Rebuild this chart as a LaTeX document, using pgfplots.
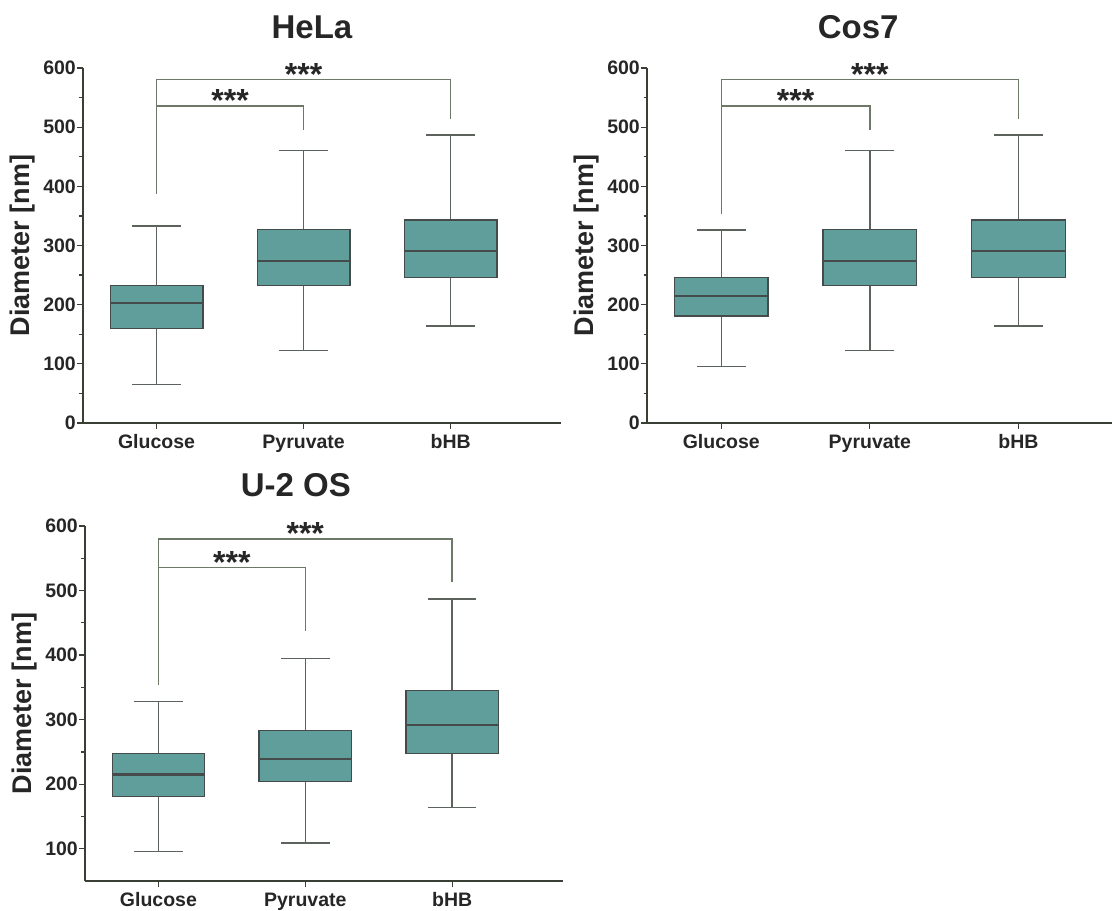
\documentclass[border=0pt]{standalone}
\usepackage{fontspec}
\setmainfont{Liberation Sans}
\usepackage{pgfplots}
\pgfplotsset{compat=1.18}
\usepgfplotslibrary{statistics}
\definecolor{boxfill}{HTML}{5F9E9B}
\definecolor{boxline}{HTML}{454B4B}
\definecolor{whisk}{HTML}{5C625C}
\definecolor{axline}{HTML}{3A3F35}
\definecolor{brk}{HTML}{6E7866}
\tikzset{stars/.style={font=\bfseries\fontsize{32}{34}\selectfont, text=black!85, anchor=base, yshift=-6pt}}
\begin{document}
\begin{tikzpicture}
\useasboundingbox (0pt,0pt) rectangle (1112pt,911pt);
\pgfplotsset{
  mybox/.style={
    scale only axis,
    height=355pt,
    axis lines=left,
    axis line style={-, draw=axline, line width=1.3pt},
    tick style={draw=axline, line width=1.2pt},
    tick align=outside,
    major tick length=6pt,
    minor tick length=3.5pt,
    xtick={0,1,2},
    xticklabels={Glucose,Pyruvate,bHB},
    ytick distance=100,
    ticklabel style={font=\bfseries\fontsize{19.5}{22}\selectfont, text=black!85},
    yticklabel style={inner sep=0pt, xshift=-1pt},
    xticklabel style={inner sep=0pt, yshift=-5pt, text height=14pt, text depth=4pt},
    /pgf/number format/assume math mode=true,
    ylabel={Diameter [nm]},
    ylabel style={font=\bfseries\fontsize{27}{30}\selectfont, text=black!85, at={(axis description cs:0,0.5)}, anchor=center, yshift=60pt},
    title style={font=\bfseries\fontsize{33}{36}\selectfont, text=black!85, anchor=base, yshift=23pt},
    clip=false,
    boxplot/draw direction=y,
    boxplot/every box/.style={draw=boxline, fill=boxfill, line width=1.3pt},
    boxplot/every median/.style={draw=boxline, line width=2.2pt},
    boxplot/every whisker/.style={draw=whisk, line width=1.3pt},
  },
  bx/.style={solid, draw=whisk, fill=boxfill, mark=none, line width=1.3pt},
  brk/.style={draw=brk, line width=1.3pt, mark=none},
}
% HeLa
\begin{axis}[mybox, at={(83pt,488pt)}, anchor=south west, width=478pt,
  xmin=-0.5, xmax=2.75, ymin=0, ymax=600, minor ytick={50,150,...,550},
  title={HeLa}, title style={at={(axis description cs:0.479,1)}}]
\addplot[bx, boxplot prepared={draw position=0, median=203, upper quartile=232, lower quartile=160, upper whisker=333, lower whisker=65, box extend=0.63, whisker extend=0.33}] coordinates {};
\addplot[bx, boxplot prepared={draw position=1, median=274, upper quartile=327, lower quartile=232, upper whisker=461, lower whisker=122, box extend=0.63, whisker extend=0.33}] coordinates {};
\addplot[bx, boxplot prepared={draw position=2, median=291, upper quartile=343, lower quartile=246, upper whisker=487, lower whisker=164, box extend=0.63, whisker extend=0.33}] coordinates {};
\addplot[brk] coordinates {(0,387) (0,580) (2,580) (2,513)};
\addplot[brk] coordinates {(0,536) (1,536) (1,495)};
\node[stars] at (axis cs:1,580) {***};
\node[stars] at (axis cs:0.5,536) {***};
\end{axis}
% Cos7
\begin{axis}[mybox, at={(647pt,488pt)}, anchor=south west, width=465pt,
  xmin=-0.5, xmax=2.63, ymin=0, ymax=600, minor ytick={50,150,...,550},
  title={Cos7}, title style={at={(axis description cs:0.454,1)}}]
\addplot[bx, boxplot prepared={draw position=0, median=215, upper quartile=246, lower quartile=181, upper whisker=326, lower whisker=96, box extend=0.63, whisker extend=0.33}] coordinates {};
\addplot[bx, boxplot prepared={draw position=1, median=274, upper quartile=327, lower quartile=232, upper whisker=461, lower whisker=122, box extend=0.63, whisker extend=0.33}] coordinates {};
\addplot[bx, boxplot prepared={draw position=2, median=291, upper quartile=343, lower quartile=246, upper whisker=487, lower whisker=164, box extend=0.63, whisker extend=0.33}] coordinates {};
\addplot[brk] coordinates {(0,353) (0,580) (2,580) (2,513)};
\addplot[brk] coordinates {(0,536) (1,536) (1,495)};
\node[stars] at (axis cs:1,580) {***};
\node[stars] at (axis cs:0.5,536) {***};
\end{axis}
% U-2 OS
\begin{axis}[mybox, at={(85pt,30pt)}, anchor=south west, width=478pt,
  xmin=-0.5, xmax=2.755, ymin=50, ymax=600, minor ytick={150,250,...,550},
  title={U-2 OS}, title style={at={(axis description cs:0.441,1)}}]
\addplot[bx, boxplot prepared={draw position=0, median=215, upper quartile=248, lower quartile=181, upper whisker=328, lower whisker=96, box extend=0.63, whisker extend=0.33}] coordinates {};
\addplot[bx, boxplot prepared={draw position=1, median=239, upper quartile=283, lower quartile=204, upper whisker=395, lower whisker=109, box extend=0.63, whisker extend=0.33}] coordinates {};
\addplot[bx, boxplot prepared={draw position=2, median=292, upper quartile=345, lower quartile=247, upper whisker=487, lower whisker=164, box extend=0.63, whisker extend=0.33}] coordinates {};
\addplot[brk] coordinates {(0,354) (0,580) (2,580) (2,514)};
\addplot[brk] coordinates {(0,536) (1,536) (1,438)};
\node[stars] at (axis cs:1,580) {***};
\node[stars] at (axis cs:0.5,536) {***};
\end{axis}
\end{tikzpicture}
\end{document}
